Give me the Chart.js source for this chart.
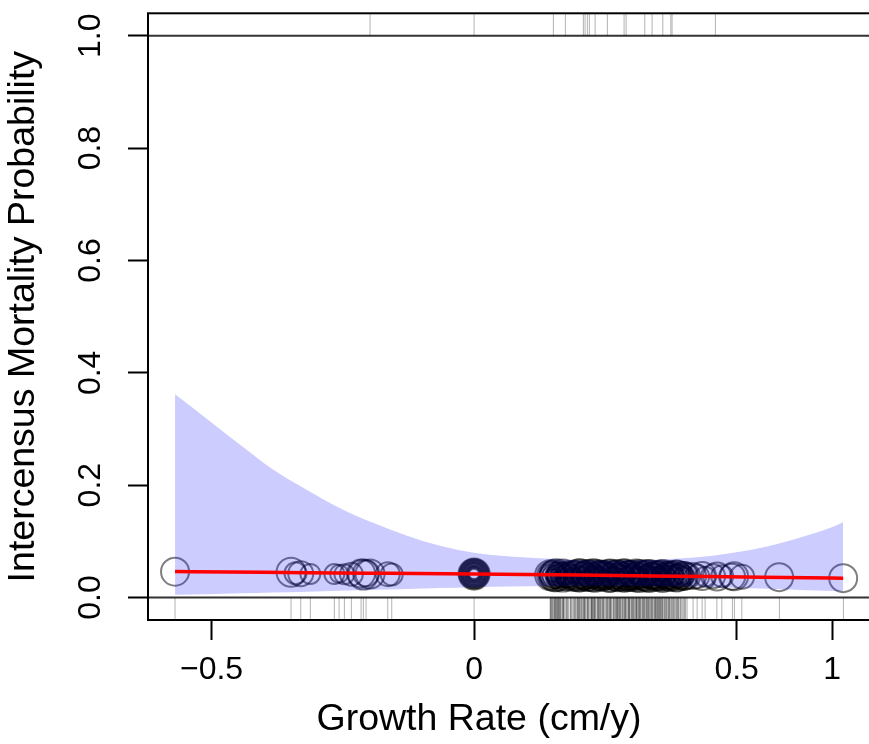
<!DOCTYPE html>
<html>
<head>
<meta charset="utf-8">
<script src="https://cdn.jsdelivr.net/npm/chart.js@4.4.1/dist/chart.umd.min.js"></script>
<style>
html,body{margin:0;padding:0;background:#fff;overflow:hidden;}
canvas{display:block;}
</style>
</head>
<body>
<canvas id="c" width="958" height="744" style="width:958px;height:744px"></canvas>
<script>
// ---- axis ticks (x axis values are in the plot's own horizontal units) ----
const xTickPositions = [-0.5, 0, 0.5, 0.682];
const xTickLabels = ['\u22120.5', '0', '0.5', '1'];
const yTickValues = [0, 0.2, 0.4, 0.6, 0.8, 1.0];
const yTickLabels = ['0.0', '0.2', '0.4', '0.6', '0.8', '1.0'];
const refLines = [0, 1];

// ---- fitted curve ----
const fitX = [-0.5695, -0.4, -0.2, 0, 0.2, 0.4, 0.55, 0.7029];
const fitY = [0.0462, 0.0449, 0.0434, 0.0418, 0.0399, 0.0378, 0.0362, 0.0345];

// ---- confidence band ----
const bandX = [-0.5695, -0.5086, -0.4457, -0.3829, -0.3181, -0.2552, -0.1924, -0.1276, -0.0648, 0,
               0.0686, 0.1448, 0.2400, 0.3352, 0.4305, 0.4933, 0.5581, 0.6210, 0.6838, 0.7029];
const bandUpper = [0.362, 0.318, 0.272, 0.228, 0.1915, 0.159, 0.133, 0.110, 0.092, 0.0795,
                   0.073, 0.069, 0.066, 0.067, 0.072, 0.0795, 0.091, 0.107, 0.126, 0.134];
const bandLower = [0.005, 0.006, 0.0075, 0.009, 0.0105, 0.012, 0.0137, 0.0153, 0.017, 0.0185,
                   0.0196, 0.0205, 0.021, 0.0205, 0.019, 0.0175, 0.0155, 0.0135, 0.0115, 0.011];

// ---- trees (circles): growth, fitted probability, symbol size ----
const leftGrowth = [-0.5695, -0.3486, -0.3401, -0.3301, -0.3118, -0.2661, -0.2571, -0.2470, -0.2337, -0.2152,
                    -0.2109, -0.2057, -0.1981, -0.1644, -0.1568];
const leftFit = [0.0460, 0.0450, 0.0432, 0.0425, 0.0420, 0.0418, 0.0422, 0.0416, 0.0414, 0.0428,
                 0.0408, 0.0432, 0.0418, 0.0416, 0.0410];
const leftSize = [14, 14.5, 11, 12.5, 10, 10, 9, 10, 11.5, 14,
                  15, 13, 14.5, 12, 11];

const zeroGrowth = [0, 0, 0, 0, 0, 0, 0, 0, 0, 0, 0, 0, 0, 0, 0, 0];
const zeroFit = [0.0419, 0.0421, 0.0418, 0.0422, 0.0420, 0.0417, 0.0423, 0.0419, 0.0421, 0.0420,
                 0.0418, 0.0422, 0.0419, 0.0421, 0.0420, 0.0418];
const zeroSize = [5, 5.8, 6.5, 7.1, 7.9, 8.4, 9.3, 9.9, 10.8, 11.4,
                  12.1, 12.9, 13.5, 14.2, 14.9, 15.6];

const denseGrowth = [
  0.1448, 0.1467, 0.1505, 0.1524, 0.1562, 0.1600, 0.1619, 0.1657, 0.1695, 0.1771,
  0.1867, 0.1943, 0.1962, 0.2000, 0.2019, 0.2057, 0.2095, 0.2114, 0.2152, 0.2171,
  0.2210, 0.2248, 0.2267, 0.2305, 0.2343, 0.2362, 0.2400, 0.2438, 0.2476, 0.2514,
  0.2552, 0.2590, 0.2610, 0.2686, 0.2705, 0.2743, 0.2762, 0.2800, 0.2838, 0.2857,
  0.2895, 0.2933, 0.2952, 0.2990, 0.3029, 0.3048, 0.3086, 0.3124, 0.3143, 0.3181,
  0.3219, 0.3257, 0.3295, 0.3333, 0.3371, 0.3410, 0.3448, 0.3486, 0.3524, 0.3562,
  0.3600, 0.3657, 0.3695, 0.3733, 0.3790, 0.3848, 0.3905, 0.3981, 0.4057];
const denseFit = [
  0.0398, 0.0391, 0.0402, 0.0386, 0.0395, 0.0389, 0.0400, 0.0384, 0.0393, 0.0397,
  0.0388, 0.0401, 0.0385, 0.0394, 0.0390, 0.0399, 0.0383, 0.0396, 0.0387, 0.0392,
  0.0400, 0.0384, 0.0395, 0.0389, 0.0398, 0.0382, 0.0393, 0.0387, 0.0396, 0.0390,
  0.0385, 0.0394, 0.0399, 0.0383, 0.0392, 0.0388, 0.0397, 0.0381, 0.0391, 0.0395,
  0.0386, 0.0390, 0.0384, 0.0396, 0.0380, 0.0389, 0.0393, 0.0385, 0.0394, 0.0382,
  0.0391, 0.0387, 0.0395, 0.0383, 0.0390, 0.0379, 0.0392, 0.0386, 0.0381, 0.0389,
  0.0384, 0.0391, 0.0380, 0.0388, 0.0383, 0.0386, 0.0379, 0.0385, 0.0381];
const denseSize = [
  15, 9, 13, 6, 16, 11, 8, 14, 5, 12,
  15, 10, 7, 16, 13, 9, 4, 14, 11, 15,
  6, 12, 16, 8, 13, 10, 15, 5, 14, 12,
  9, 16, 7, 13, 15, 11, 6, 14, 10, 16,
  8, 12, 15, 5, 13, 11, 16, 9, 14, 7,
  12, 15, 10, 16, 6, 13, 11, 14, 8, 15,
  12, 9, 14, 13, 11, 15, 12, 14, 13];

const dense2Growth = [
  0.1485, 0.1540, 0.1580, 0.1638, 0.1676, 0.1720, 0.1745, 0.1800, 0.1830, 0.1890,
  0.1915, 0.1985, 0.2035, 0.2075, 0.2130, 0.2190, 0.2228, 0.2285, 0.2320, 0.2380,
  0.2420, 0.2455, 0.2495, 0.2535, 0.2570, 0.2630, 0.2655, 0.2725, 0.2780, 0.2818,
  0.2875, 0.2915, 0.2970, 0.3010, 0.3065, 0.3105, 0.3160, 0.3200, 0.3238, 0.3275,
  0.3315, 0.3352, 0.3390, 0.3430, 0.3467, 0.3505, 0.3543, 0.3580, 0.3620, 0.3640,
  0.3675, 0.3715, 0.3760, 0.3815, 0.3870, 0.3940, 0.4015, 0.1560, 0.2080, 0.2600,
  0.2880, 0.3100, 0.3350, 0.1700, 0.2250, 0.2700, 0.3000, 0.3250, 0.3550, 0.3800];
const dense2Fit = [
  0.0392, 0.0386, 0.0399, 0.0388, 0.0395, 0.0384, 0.0397, 0.0390, 0.0386, 0.0394,
  0.0389, 0.0398, 0.0383, 0.0392, 0.0387, 0.0396, 0.0385, 0.0393, 0.0388, 0.0397,
  0.0384, 0.0391, 0.0386, 0.0395, 0.0382, 0.0390, 0.0394, 0.0385, 0.0389, 0.0396,
  0.0383, 0.0392, 0.0387, 0.0381, 0.0390, 0.0394, 0.0384, 0.0389, 0.0380, 0.0393,
  0.0386, 0.0382, 0.0391, 0.0385, 0.0379, 0.0388, 0.0383, 0.0390, 0.0381, 0.0386,
  0.0380, 0.0387, 0.0382, 0.0378, 0.0385, 0.0380, 0.0383, 0.0392, 0.0390, 0.0388,
  0.0389, 0.0387, 0.0385, 0.0393, 0.0389, 0.0388, 0.0386, 0.0384, 0.0383, 0.0381];
const dense2Size = [
  7, 4, 10, 6, 12, 8, 5, 9, 11, 6,
  8, 4, 10, 7, 13, 5, 9, 6, 11, 8,
  4, 10, 7, 12, 5, 9, 6, 8, 11, 4,
  10, 7, 5, 12, 8, 6, 9, 4, 11, 7,
  5, 10, 8, 6, 12, 4, 9, 7, 11, 5,
  8, 10, 6, 9, 12, 7, 10, 3, 3, 3,
  3, 3, 3, 2.5, 2.5, 2.5, 2.5, 2.5, 2.5, 2.5];

const dense3Growth = [
  0.1470, 0.1530, 0.1610, 0.1690, 0.1760, 0.1850, 0.1930, 0.2010, 0.2100, 0.2160,
  0.2240, 0.2300, 0.2370, 0.2450, 0.2520, 0.2580, 0.2660, 0.2730, 0.2790, 0.2860,
  0.2940, 0.3020, 0.3080, 0.3150, 0.3230, 0.3300, 0.3380, 0.3440, 0.3510, 0.3590,
  0.3660, 0.3720, 0.3780, 0.3860, 0.3930, 0.4000, 0.1580, 0.2270, 0.2950, 0.3470];
const dense3Fit = [
  0.0394, 0.0388, 0.0396, 0.0390, 0.0385, 0.0393, 0.0389, 0.0395, 0.0387, 0.0391,
  0.0396, 0.0386, 0.0392, 0.0389, 0.0394, 0.0385, 0.0391, 0.0388, 0.0393, 0.0386,
  0.0390, 0.0387, 0.0392, 0.0384, 0.0389, 0.0386, 0.0391, 0.0383, 0.0388, 0.0385,
  0.0387, 0.0382, 0.0386, 0.0383, 0.0381, 0.0384, 0.0391, 0.0389, 0.0387, 0.0385];
const dense3Size = [
  14, 15.5, 13, 16, 14.5, 13.5, 15, 16, 14, 15.5,
  13, 16, 14.5, 15, 13.5, 16, 14, 15.5, 13, 16,
  14.5, 15, 13.5, 16, 14, 15.5, 13, 15, 14.5, 16,
  13.5, 15, 14, 15.5, 13, 14, 10, 9, 10.5, 9.5];

const dense4Growth = [
  0.1455, 0.1498, 0.1548, 0.1595, 0.1645, 0.1705, 0.1782, 0.1840, 0.1905, 0.1970,
  0.2045, 0.2110, 0.2175, 0.2238, 0.2295, 0.2352, 0.2410, 0.2465, 0.2545, 0.2605,
  0.2670, 0.2715, 0.2770, 0.2828, 0.2890, 0.2960, 0.3040, 0.3095, 0.3170, 0.3210,
  0.3285, 0.3322, 0.3400, 0.3455, 0.3530, 0.3575, 0.3630, 0.3700, 0.3750, 0.3830,
  0.3890, 0.3960, 0.4030, 0.1625, 0.1985, 0.2385, 0.2745, 0.3135, 0.3495, 0.3885];
const dense4Fit = [
  0.0390, 0.0395, 0.0386, 0.0392, 0.0389, 0.0397, 0.0384, 0.0391, 0.0388, 0.0394,
  0.0386, 0.0393, 0.0389, 0.0385, 0.0392, 0.0388, 0.0395, 0.0383, 0.0390, 0.0387,
  0.0393, 0.0384, 0.0391, 0.0386, 0.0389, 0.0382, 0.0390, 0.0385, 0.0388, 0.0392,
  0.0383, 0.0389, 0.0386, 0.0381, 0.0388, 0.0384, 0.0387, 0.0380, 0.0385, 0.0383,
  0.0381, 0.0384, 0.0382, 0.0387, 0.0386, 0.0385, 0.0384, 0.0383, 0.0382, 0.0381];
const dense4Size = [
  11, 6, 13, 8, 3.5, 10, 12, 7, 4, 14,
  9, 5, 12, 10, 3.5, 8, 13, 6, 11, 4,
  9, 12, 5, 7, 14, 10, 3.5, 8, 12, 6,
  11, 4, 13, 9, 5, 10, 7, 12, 3.5, 8,
  11, 9, 8, 3, 3, 3, 3, 3, 3, 3];

const rightGrowth = [0.4171, 0.4248, 0.4343, 0.4400, 0.4552, 0.4629, 0.4724, 0.4914, 0.4952, 0.5105, 0.5810, 0.7029];
const rightFit = [0.0384, 0.0376, 0.0382, 0.0372, 0.0379, 0.0374, 0.0380, 0.0371, 0.0377, 0.0369, 0.0363, 0.0345];
const rightSize = [13, 12, 14, 10, 12, 14, 11, 13, 14, 12, 14, 14];

// ---- rugs: survivors (bottom) and deaths (top) ----
const rugSurvivors = [
  -0.5695, -0.3486, -0.3301, -0.3118, -0.2661, -0.2571, -0.2470, -0.2337, -0.2152, -0.2109,
  -0.2057, -0.1644, -0.1568, 0,
  0.1448, 0.1467, 0.1505, 0.1524, 0.1562, 0.1600, 0.1619, 0.1657, 0.1695, 0.1771,
  0.1867, 0.1943, 0.1962, 0.2000, 0.2019, 0.2057, 0.2095, 0.2114, 0.2152, 0.2171,
  0.2210, 0.2248, 0.2267, 0.2305, 0.2343, 0.2362, 0.2400, 0.2438, 0.2476, 0.2514,
  0.2552, 0.2590, 0.2610, 0.2686, 0.2705, 0.2743, 0.2762, 0.2800, 0.2838, 0.2857,
  0.2895, 0.2933, 0.2952, 0.2990, 0.3029, 0.3048, 0.3086, 0.3124, 0.3143, 0.3181,
  0.3219, 0.3257, 0.3295, 0.3333, 0.3371, 0.3410, 0.3448, 0.3486, 0.3524, 0.3562,
  0.3600, 0.3657, 0.3695, 0.3733, 0.3790, 0.3848, 0.3905, 0.3981, 0.4057,
  0.4171, 0.4248, 0.4343, 0.4400, 0.4623, 0.4718, 0.4920, 0.4958, 0.5099, 0.5815, 0.7034];
const rugDeaths = [-0.1981, 0, 0.1510, 0.1739, 0.2082, 0.2114, 0.2158, 0.2196, 0.2305, 0.2539,
                   0.2857, 0.2895, 0.3251, 0.3390, 0.3594, 0.3747, 0.3771, 0.4596];
const rugTopLevel = 1.0196;
const rugBottomLevel = -0.0198;

// ---- build datasets from the arrays ----
const treeGrowth = [...leftGrowth, ...zeroGrowth, ...denseGrowth, ...dense2Growth, ...dense3Growth, ...dense4Growth, ...rightGrowth];
const treeFit = [...leftFit, ...zeroFit, ...denseFit, ...dense2Fit, ...dense3Fit, ...dense4Fit, ...rightFit];
const treeSize = [...leftSize, ...zeroSize, ...denseSize, ...dense2Size, ...dense3Size, ...dense4Size, ...rightSize];
const rugBottomAll = [...rugSurvivors, ...dense2Growth, ...dense3Growth, ...dense4Growth];

const FONT = "'Liberation Sans', Arial, Helvetica, sans-serif";
Chart.defaults.font.family = FONT;
Chart.defaults.color = '#000';

const framePlugin = {
  id: 'frame',
  beforeDatasetsDraw(chart) {
    const {ctx, chartArea: a, scales} = chart;
    ctx.save();
    ctx.strokeStyle = '#333';
    ctx.lineWidth = 2;
    refLines.forEach(v => {
      const py = scales.y.getPixelForValue(v);
      ctx.beginPath();
      ctx.moveTo(a.left, py);
      ctx.lineTo(a.right, py);
      ctx.stroke();
    });
    ctx.restore();
  },
  afterDraw(chart) {
    const {ctx, chartArea: a} = chart;
    ctx.save();
    ctx.strokeStyle = '#000';
    ctx.lineWidth = 2;
    ctx.strokeRect(a.left, a.top, a.right - a.left, a.bottom - a.top);
    ctx.restore();
  }
};

function noPad(s) { s.paddingTop = 0; s.paddingBottom = 0; s.paddingLeft = 0; s.paddingRight = 0; }

new Chart(document.getElementById('c'), {
  type: 'scatter',
  data: {
    datasets: [
      {
        type: 'line',
        label: 'fit',
        data: fitX.map((x, i) => ({x, y: fitY[i]})),
        borderColor: '#ff0000',
        borderWidth: 3.5,
        pointRadius: 0,
        fill: false,
        cubicInterpolationMode: 'monotone',
        order: 1
      },
      {
        type: 'line',
        label: 'upper',
        data: bandX.map((x, i) => ({x, y: bandUpper[i]})),
        borderColor: 'transparent',
        borderWidth: 1,
        backgroundColor: 'rgba(0,0,255,0.2)',
        pointRadius: 0,
        fill: '+1',
        cubicInterpolationMode: 'monotone',
        order: 2
      },
      {
        type: 'line',
        label: 'lower',
        data: bandX.map((x, i) => ({x, y: bandLower[i]})),
        borderColor: 'transparent',
        borderWidth: 1,
        pointRadius: 0,
        fill: false,
        cubicInterpolationMode: 'monotone',
        order: 2
      },
      {
        label: 'trees',
        data: treeGrowth.map((x, i) => ({x, y: treeFit[i]})),
        pointRadius: treeSize,
        pointBorderWidth: 2,
        pointBorderColor: 'rgba(0,0,0,0.5)',
        pointBackgroundColor: 'rgba(0,0,0,0)',
        showLine: false,
        order: 3
      },
      {
        label: 'rug survivors',
        data: rugBottomAll.map(x => ({x, y: rugBottomLevel})),
        pointStyle: 'line',
        pointRotation: 90,
        pointRadius: 11,
        pointBorderWidth: 1,
        pointBorderColor: 'rgba(0,0,0,0.3)',
        showLine: false,
        order: 4
      },
      {
        label: 'rug deaths',
        data: rugDeaths.map(x => ({x, y: rugTopLevel})),
        pointStyle: 'line',
        pointRotation: 90,
        pointRadius: 11,
        pointBorderWidth: 1,
        pointBorderColor: 'rgba(0,0,0,0.3)',
        showLine: false,
        order: 4
      }
    ]
  },
  options: {
    responsive: false,
    animation: false,
    devicePixelRatio: 1,
    layout: {autoPadding: false, padding: {left: 0, right: 0, top: 13.3, bottom: 0}},
    plugins: {
      legend: {display: false},
      tooltip: {enabled: false},
      title: {
        display: true,
        text: 'Growth Rate (cm/y)',
        position: 'bottom',
        color: '#000',
        font: {size: 37.5, weight: 'normal', family: FONT},
        padding: {top: 0, bottom: 2}
      }
    },
    scales: {
      x: {
        type: 'linear',
        position: 'bottom',
        min: -0.621,
        max: 0.754,
        afterBuildTicks: s => { s.ticks = xTickPositions.map(v => ({value: v})); },
        afterFit: s => { s.height = 77; noPad(s); },
        grid: {display: true, drawOnChartArea: false, drawTicks: true, tickLength: 20, tickWidth: 2, tickColor: '#000'},
        border: {display: false},
        ticks: {
          autoSkip: false, maxRotation: 0, minRotation: 0, padding: 11,
          color: '#000', font: {size: 32, family: FONT},
          callback: (v, i) => xTickLabels[i]
        }
      },
      y: {
        type: 'linear',
        position: 'left',
        min: -0.04,
        max: 1.04,
        afterBuildTicks: s => { s.ticks = yTickValues.map(v => ({value: v})); },
        afterFit: s => { s.width = 148; noPad(s); },
        grid: {display: true, drawOnChartArea: false, drawTicks: true, tickLength: 20, tickWidth: 2, tickColor: '#000'},
        border: {display: false},
        ticks: {
          autoSkip: false, minRotation: 90, maxRotation: 90, crossAlign: 'center', padding: 15,
          color: '#000', font: {size: 32, family: FONT},
          callback: (v, i) => yTickLabels[i]
        },
        title: {
          display: true,
          text: 'Intercensus Mortality Probability',
          color: '#000',
          font: {size: 37.5, family: FONT},
          padding: {top: 1, bottom: 0}
        }
      },
      y2: {
        type: 'linear',
        position: 'right',
        display: true,
        afterFit: s => { s.width = 88; noPad(s); },
        grid: {display: false},
        border: {display: false},
        ticks: {display: false}
      }
    }
  },
  plugins: [framePlugin]
});
</script>
</body>
</html>
